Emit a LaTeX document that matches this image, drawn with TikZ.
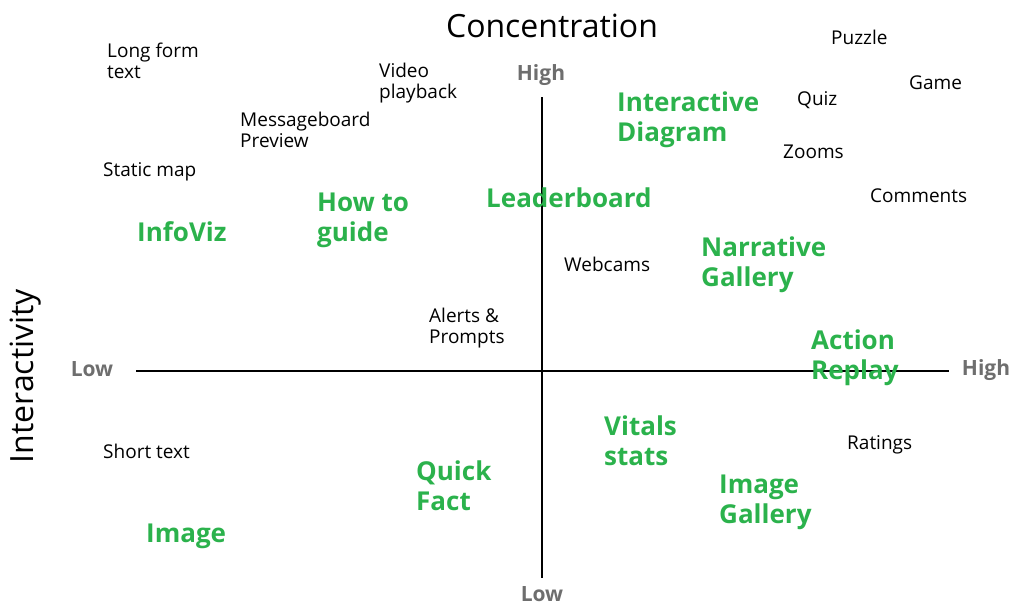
\documentclass[tikz,border=0pt]{standalone}
\usepackage{fontspec}
\setmainfont{Open Sans}
\definecolor{qgreen}{HTML}{2BB24C}
\definecolor{qgray}{HTML}{6E6E6E}
\begin{document}
\begin{tikzpicture}[x=1pt,y=-1pt,
  lbl/.style={inner sep=0pt,anchor=base west,align=left,font=\fontsize{19}{21}\selectfont},
  glbl/.style={inner sep=0pt,anchor=base west,align=left,text=qgreen,font=\fontsize{26}{29.5}\selectfont\bfseries},
  axlbl/.style={inner sep=0pt,text=qgray,font=\fontsize{21}{24}\selectfont\bfseries},
  title/.style={inner sep=0pt,font=\fontsize{32}{36}\selectfont},
  axis/.style={line width=2.4pt}]
\useasboundingbox (0,0) rectangle (1013,606);
% axes
\coordinate (xl) at (136,371);
\coordinate (xr) at (949,371);
\coordinate (yt) at (542,97);
\coordinate (yb) at (542,578);
\draw[axis] (xl) -- (xr);
\draw[axis] (yt) -- (yb);
% titles
\node[title] (conc) at (552,26) {Concentration};
\node[title,rotate=90] (inter) at (26,376) {Interactivity};
\node[axlbl] (hightop) at (541,75) {High};
\node[axlbl] (lowbot) at (542,594) {Low};
\node[axlbl] (lowleft) at (92,369) {Low};
\node[axlbl] (highright) at (986,370) {High};
% black labels (base = last line)
\node[lbl] (longform) at (107,78) {Long form\\text};
\node[lbl] (video) at (379,98) {Video\\playback};
\node[lbl] (msg) at (240,147) {Messageboard\\Preview};
\node[lbl] (static) at (103,176) {Static map};
\node[lbl] (alerts) at (429,343) {Alerts \&\\Prompts};
\node[lbl] (webcams) at (564,271) {Webcams};
\node[lbl] (short) at (103,458) {Short text};
\node[lbl] (puzzle) at (831,44) {Puzzle};
\node[lbl] (game) at (909,89) {Game};
\node[lbl] (quiz) at (797,105) {Quiz};
\node[lbl] (zooms) at (783,158) {Zooms};
\node[lbl] (comments) at (870,202) {Comments};
\node[lbl] (ratings) at (847,449) {Ratings};
% green labels (base = last line)
\node[glbl] (idiag) at (617,141) {Interactive\\Diagram};
\node[glbl] (leader) at (486,207) {Leaderboard};
\node[glbl] (howto) at (317,241) {How to\\guide};
\node[glbl] (infoviz) at (137,241) {InfoViz};
\node[glbl] (narr) at (701,286) {Narrative\\Gallery};
\node[glbl] (action) at (811,379) {Action\\Replay};
\node[glbl] (vitals) at (604,465) {Vitals\\stats};
\node[glbl] (quick) at (416,510) {Quick\\Fact};
\node[glbl] (imggal) at (719,523) {Image\\Gallery};
\node[glbl] (image) at (146,542) {Image};
\end{tikzpicture}
\end{document}
